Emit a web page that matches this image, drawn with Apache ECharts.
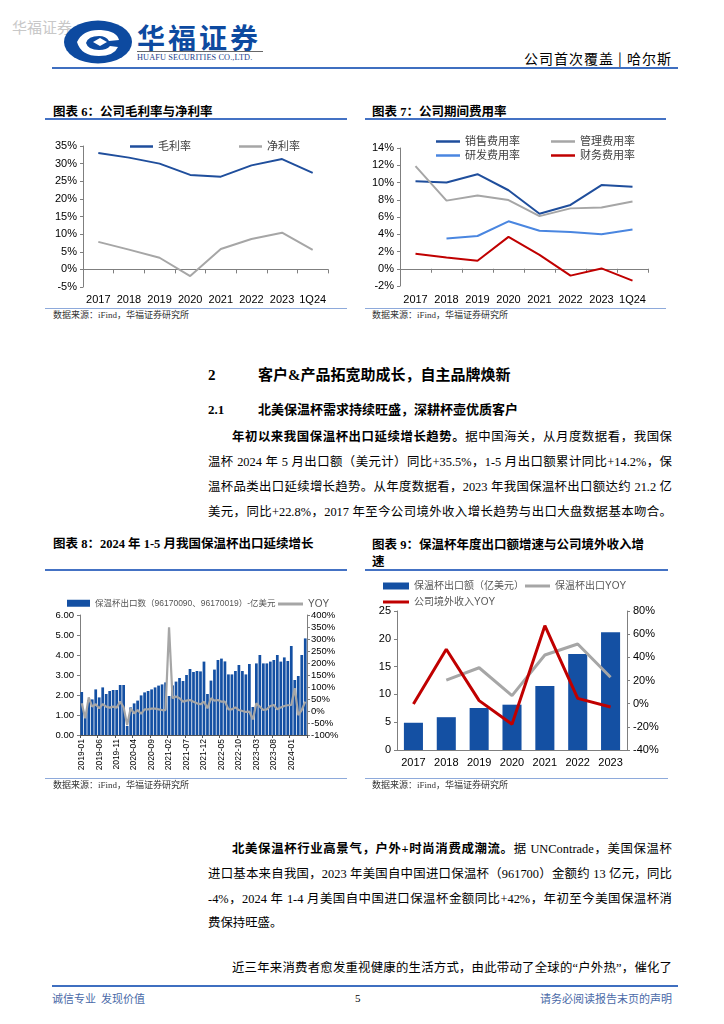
<!DOCTYPE html>
<html><head><meta charset="utf-8">
<script src="https://cdn.jsdelivr.net/npm/echarts/dist/echarts.min.js"></script>
<style>
body{margin:0;background:#fff;}
#page{position:relative;width:724px;height:1024px;background:#fff;overflow:hidden;font-family:"Liberation Serif","Noto Sans CJK SC",serif;color:#000;}
.a{position:absolute;white-space:nowrap;}
.t{position:absolute;white-space:nowrap;font-family:"Liberation Serif","Noto Sans CJK SC";font-weight:700;font-size:12.5px;line-height:16px;}
.ln{position:absolute;background:#4472c4;}
.src{position:absolute;white-space:nowrap;font-size:9px;line-height:12px;color:#333;font-family:"Liberation Serif","Noto Sans CJK SC";}
.p{position:absolute;font-size:12.4px;line-height:18px;text-align:justify;text-align-last:justify;font-family:"Liberation Serif","Noto Sans CJK SC";}
.p b{font-weight:700;}
.chart{position:absolute;}
</style></head>
<body><div id="page">
<!-- header -->
<div class="a" style="left:12px;top:18px;font-size:15px;line-height:18px;color:#c8c8c8;font-family:'Noto Sans CJK SC';">华福证券</div>
<svg class="a" style="left:63px;top:20px;" width="70" height="44" viewBox="0 0 70 44">
 <ellipse cx="35" cy="22" rx="34" ry="21.5" fill="#0d4aa0"/>
 <path d="M14 22 Q20 9 38 10 Q54 11 56 20 L46 21 Q43 16 36 16 Q25 16 23 23 Q25 30 36 30 Q44 30 47 26 L55 27 Q51 36 36 36 Q18 36 14 22 Z" fill="#fff"/>
 <path d="M30 22 L37 18 L44 22 L37 26 Z" fill="#fff"/>
</svg>
<div class="a" style="left:137px;top:20px;font-size:28px;line-height:34px;font-weight:700;color:#0d4aa0;letter-spacing:3px;font-family:'Noto Sans CJK SC';">华福证券</div>
<div class="a" style="left:137px;top:51px;width:126px;height:1px;background:#666;"></div>
<div class="a" style="left:137px;top:53px;font-size:8.3px;line-height:10px;color:#1d3f8a;letter-spacing:0.1px;">HUAFU SECURITIES CO.,LTD.</div>
<div class="a" style="right:52px;top:49px;font-size:14px;line-height:18px;letter-spacing:1px;font-family:'Noto Sans CJK SC';">公司首次覆盖&nbsp;|&nbsp;哈尔斯</div>
<div class="a" style="left:52px;top:67px;width:626px;height:2px;background:#3f6fc0;"></div>

<!-- chart titles top -->
<div class="t" style="left:53px;top:104px;">图表 6：公司毛利率与净利率</div>
<div class="ln" style="left:45px;top:118px;width:302px;height:1.5px;"></div>
<div class="t" style="left:372px;top:104px;">图表 7：公司期间费用率</div>
<div class="ln" style="left:365px;top:118px;width:301px;height:1.5px;"></div>
<div id="c6" class="chart" style="left:45px;top:125px;width:300px;height:180px;"></div>
<div id="c7" class="chart" style="left:365px;top:125px;width:300px;height:180px;"></div>
<div class="ln" style="left:45px;top:308px;width:302px;height:1px;background:#8eaadb;"></div>
<div class="ln" style="left:365px;top:308px;width:301px;height:1px;background:#8eaadb;"></div>
<div class="src" style="left:53px;top:309px;">数据来源：iFind，华福证券研究所</div>
<div class="src" style="left:372px;top:309px;">数据来源：iFind，华福证券研究所</div>

<!-- section text -->
<div class="a" style="left:208px;top:366px;font-size:15px;line-height:18px;font-weight:700;">2</div>
<div class="a" style="left:258px;top:366px;font-size:15px;line-height:18px;font-weight:700;">客户&amp;产品拓宽助成长，自主品牌焕新</div>
<div class="a" style="left:208px;top:402px;font-size:13px;line-height:16px;font-weight:700;">2.1</div>
<div class="a" style="left:258px;top:402px;font-size:13px;line-height:16px;font-weight:700;">北美保温杯需求持续旺盛，深耕杯壶优质客户</div>
<div class="p" style="left:232px;top:428px;width:440px;"><b>年初以来我国保温杯出口延续增长趋势。</b>据中国海关，从月度数据看，我国保</div>
<div class="p" style="left:208px;top:453px;width:464px;">温杯 2024 年 5 月出口额（美元计）同比+35.5%，1-5 月出口额累计同比+14.2%，保</div>
<div class="p" style="left:208px;top:478px;width:464px;">温杯品类出口延续增长趋势。从年度数据看，2023 年我国保温杯出口额达约 21.2 亿</div>
<div class="p" style="left:208px;top:503px;width:464px;">美元，同比+22.8%，2017 年至今公司境外收入增长趋势与出口大盘数据基本吻合。</div>

<!-- chart titles bottom -->
<div class="t" style="left:53px;top:536px;">图表 8：2024 年 1-5 月我国保温杯出口延续增长</div>
<div class="t" style="left:372px;top:537px;line-height:17px;">图表 9：保温杯年度出口额增速与公司境外收入增<br>速</div>
<div class="ln" style="left:45px;top:569px;width:302px;height:1.5px;"></div>
<div class="ln" style="left:365px;top:569px;width:303px;height:1.5px;"></div>
<div id="c8" class="chart" style="left:45px;top:575px;width:300px;height:205px;"></div>
<div id="c9" class="chart" style="left:365px;top:572px;width:300px;height:203px;"></div>
<div class="ln" style="left:45px;top:778px;width:302px;height:1px;background:#8eaadb;"></div>
<div class="ln" style="left:365px;top:778px;width:303px;height:1px;background:#8eaadb;"></div>
<div class="src" style="left:53px;top:779px;">数据来源：iFind，华福证券研究所</div>
<div class="src" style="left:372px;top:779px;">数据来源：iFind，华福证券研究所</div>

<!-- lower text -->
<div class="p" style="left:232px;top:840px;width:440px;"><b>北美保温杯行业高景气，户外+时尚消费成潮流。</b>据 UNContrade，美国保温杯</div>
<div class="p" style="left:208px;top:865px;width:464px;">进口基本来自我国，2023 年美国自中国进口保温杯（961700）金额约 13 亿元，同比</div>
<div class="p" style="left:208px;top:890px;width:464px;">-4%，2024 年 1-4 月美国自中国进口保温杯金额同比+42%，年初至今美国保温杯消</div>
<div class="p" style="left:208px;top:914px;width:464px;text-align:left;text-align-last:left;">费保持旺盛。</div>
<div class="p" style="left:232px;top:959px;width:440px;">近三年来消费者愈发重视健康的生活方式，由此带动了全球的“户外热”，催化了</div>

<!-- footer -->
<div class="a" style="left:52px;top:985px;width:626px;height:2px;background:#3f6fc0;"></div>
<div class="a" style="left:52px;top:991px;font-size:11px;line-height:14px;color:#4a6aa8;font-family:'Noto Sans CJK SC';">诚信专业&nbsp;&nbsp;发现价值</div>
<div class="a" style="left:355px;top:991px;font-size:11px;line-height:14px;">5</div>
<div class="a" style="right:52px;top:991px;font-size:11px;line-height:14px;color:#4a6aa8;font-family:'Noto Sans CJK SC';">请务必阅读报告末页的声明</div>
</div>

<script>
// ---------- data ----------
const years6 = ['2017','2018','2019','2020','2021','2022','2023','1Q24'];
const grossMargin = [33.0, 31.7, 30.0, 26.8, 26.3, 29.5, 31.3, 27.4];
const netMargin = [7.8, 5.6, 3.3, -1.9, 5.8, 8.6, 10.4, 5.5];

const years7 = ['2017','2018','2019','2020','2021','2022','2023','1Q24'];
const sellingRate = [10.15, 10.0, 10.96, 9.1, 6.37, 7.4, 9.7, 9.5];
const adminRate = [11.9, 7.9, 8.5, 7.96, 6.1, 7.0, 7.1, 7.8];
const rdRate = [null, 3.5, 3.8, 5.5, 4.4, 4.26, 4.0, 4.55];
const financeRate = [1.74, 1.3, 0.93, 3.7, 1.6, -0.8, 0.04, -1.37];

const months8 = ['2019-01','2019-02','2019-03','2019-04','2019-05','2019-06','2019-07','2019-08','2019-09','2019-10','2019-11','2019-12',
 '2020-01','2020-02','2020-03','2020-04','2020-05','2020-06','2020-07','2020-08','2020-09','2020-10','2020-11','2020-12',
 '2021-01','2021-02','2021-03','2021-04','2021-05','2021-06','2021-07','2021-08','2021-09','2021-10','2021-11','2021-12',
 '2022-01','2022-02','2022-03','2022-04','2022-05','2022-06','2022-07','2022-08','2022-09','2022-10','2022-11','2022-12',
 '2023-01','2023-02','2023-03','2023-04','2023-05','2023-06','2023-07','2023-08','2023-09','2023-10','2023-11','2023-12',
 '2024-01','2024-02','2024-03','2024-04','2024-05'];
const exportMonthly = [2.15,1.1,1.75,1.78,2.28,1.88,2.38,2.05,2.2,2.25,2.25,2.5,
 2.5,0.45,1.38,1.58,1.72,1.98,2.13,2.2,2.28,2.38,2.47,2.53,
 2.63,1.95,2.48,2.67,2.85,2.7,3.0,3.3,3.15,3.2,3.18,3.67,
 2.05,2.72,3.27,3.75,3.82,3.68,3.03,3.03,3.2,3.5,3.2,3.03,
 3.55,1.4,3.58,4.0,3.58,3.58,3.67,3.75,4.0,3.67,3.88,3.7,
 4.45,2.75,2.95,4.0,4.83];
const exportMonthlyYoy = [32,-30,57,18,28,11,29,18,14,18,14,39,
 15,-58,11,-10,4,-12,7,7,10,10,7,4,
 4,349,53,60,53,39,43,46,39,32,28,39,
 11,53,43,46,39,39,7,7,15,4,0,-4,
 -3,-35,32,18,4,7,21,25,7,15,21,24,
 25,95,-17,4,39];
const leftTicks8 = [0,1,2,3,4,5,6];
const rightTicks8 = [-100,400];

const years9 = ['2017','2018','2019','2020','2021','2022','2023'];
const exportAnnual = [4.9, 5.9, 7.55, 8.15, 11.5, 17.27, 21.2];
const exportAnnualYoy = [null, 20.4, 31.0, 6.9, 42.0, 51.5, 22.8];
const overseasYoy = [-0.3, 47.0, 2.6, -17.8, 67.3, 4.6, -2.9];

// ---------- styles ----------
const FONT = 'Liberation Sans, Noto Sans CJK SC, sans-serif';
const BLUE = '#1f4e9c', GRAY = '#a6a6a6', LBLUE = '#4a86e0', RED = '#c00000', BAR = '#1450a3';
const axisCol = '#7f7f7f';

function valAxis(min, max, interval, fmt, extra) {
  return Object.assign({
    type: 'value', min: min, max: max, interval: interval,
    axisLine: {show: true, lineStyle: {color: axisCol}},
    axisTick: {show: true, length: 3, lineStyle: {color: axisCol}},
    splitLine: {show: false},
    axisLabel: {formatter: fmt, fontSize: 11, color: '#000', margin: 6, fontFamily: FONT}
  }, extra || {});
}
function catAxis(data, margin) {
  return {type: 'category', data: data,
    axisLine: {onZero: true, lineStyle: {color: axisCol}},
    axisTick: {show: true, length: 4, lineStyle: {color: axisCol}},
    axisLabel: {interval: 0, hideOverlap: false, fontSize: 11, color: '#000', margin: margin, fontFamily: FONT}};
}

// chart 6
const c6 = echarts.init(document.getElementById('c6'));
c6.setOption({
  animation: false,
  textStyle: {fontFamily: FONT},
  legend: {left: 80, top: 11, icon: 'rect', itemWidth: 23, itemHeight: 2.5, itemGap: 48,
    textStyle: {fontSize: 11, color: '#404040', fontFamily: FONT}, data: ['毛利率', '净利率']},
  grid: {left: 38, right: 17, top: 21, bottom: 10},
  xAxis: catAxis(years6, 7),
  yAxis: valAxis(-5, 35, 5, '{value}%'),
  series: [
    {name: '毛利率', type: 'line', data: grossMargin, symbol: 'none', lineStyle: {width: 2, color: BLUE}, itemStyle: {color: BLUE}},
    {name: '净利率', type: 'line', data: netMargin, symbol: 'none', lineStyle: {width: 2, color: GRAY}, itemStyle: {color: GRAY}}
  ]
});

// chart 7
const c7 = echarts.init(document.getElementById('c7'));
const leg7 = {icon: 'rect', itemWidth: 24, itemHeight: 2.5, itemGap: 31, left: 66,
  textStyle: {fontSize: 11, color: '#404040', fontFamily: FONT}};
c7.setOption({
  animation: false,
  textStyle: {fontFamily: FONT},
  legend: [Object.assign({top: 6, data: ['销售费用率', '管理费用率']}, leg7),
           Object.assign({top: 20, data: ['研发费用率', '财务费用率']}, leg7)],
  grid: {left: 35, right: 17, top: 23, bottom: 13},
  xAxis: catAxis(years7, 8),
  yAxis: valAxis(-2, 14, 2, '{value}%'),
  series: [
    {name: '销售费用率', type: 'line', data: sellingRate, symbol: 'none', lineStyle: {width: 2, color: BLUE}, itemStyle: {color: BLUE}},
    {name: '管理费用率', type: 'line', data: adminRate, symbol: 'none', lineStyle: {width: 2, color: GRAY}, itemStyle: {color: GRAY}},
    {name: '研发费用率', type: 'line', data: rdRate, symbol: 'none', lineStyle: {width: 2, color: LBLUE}, itemStyle: {color: LBLUE}},
    {name: '财务费用率', type: 'line', data: financeRate, symbol: 'none', lineStyle: {width: 2, color: RED}, itemStyle: {color: RED}}
  ]
});

// chart 8
const c8 = echarts.init(document.getElementById('c8'));
const n8bar = '保温杯出口数（96170090、96170019）-亿美元';
c8.setOption({
  animation: false,
  textStyle: {fontFamily: FONT},
  legend: [
    {left: 17, top: 19, icon: 'rect', itemWidth: 23, itemHeight: 7, itemGap: 3, data: [n8bar],
     textStyle: {fontSize: 8.5, color: '#555', fontFamily: FONT}},
    {left: 228, top: 19, icon: 'rect', itemWidth: 25, itemHeight: 3, data: ['YOY'],
     textStyle: {fontSize: 10, color: '#555', fontFamily: FONT}}
  ],
  grid: {left: 35, right: 38, top: 40, bottom: 45},
  xAxis: {type: 'category', data: months8,
    axisLine: {lineStyle: {color: '#555'}},
    axisTick: {show: true, interval: 4, length: 3, lineStyle: {color: '#555'}},
    axisLabel: {interval: 4, rotate: 90, fontSize: 8.5, color: '#000', margin: 4, fontFamily: FONT}},
  yAxis: [
    valAxis(leftTicks8[0], leftTicks8[leftTicks8.length - 1], 1, v => v.toFixed(2),
      {axisLabel: {formatter: v => v.toFixed(2), fontSize: 9.5, color: '#000', margin: 6, fontFamily: FONT}}),
    valAxis(rightTicks8[0], rightTicks8[1], 50, '{value}%',
      {position: 'right', axisLabel: {formatter: '{value}%', fontSize: 9.5, color: '#000', margin: 4, fontFamily: FONT}})
  ],
  series: [
    {name: n8bar, type: 'bar', data: exportMonthly, barCategoryGap: '22%', itemStyle: {color: BAR}},
    {name: 'YOY', type: 'line', yAxisIndex: 1, data: exportMonthlyYoy, symbol: 'none',
     lineStyle: {width: 2.2, color: GRAY}, itemStyle: {color: GRAY}}
  ]
});

// chart 9
const c9 = echarts.init(document.getElementById('c9'));
const legTxt9 = {fontSize: 10, color: '#595959', fontFamily: FONT};
c9.setOption({
  animation: false,
  textStyle: {fontFamily: FONT},
  legend: [
    {left: 13, top: 4, icon: 'rect', itemWidth: 26, itemHeight: 7, data: ['保温杯出口额（亿美元）'], textStyle: legTxt9},
    {left: 155, top: 4, icon: 'rect', itemWidth: 25, itemHeight: 3, data: ['保温杯出口YOY'], textStyle: legTxt9},
    {left: 13, top: 20, icon: 'rect', itemWidth: 26, itemHeight: 3, data: ['公司境外收入YOY'], textStyle: legTxt9}
  ],
  grid: {left: 32, right: 38, top: 39, bottom: 25},
  xAxis: {type: 'category', data: years9,
    axisLine: {lineStyle: {color: axisCol}},
    axisTick: {show: false},
    axisLabel: {interval: 0, fontSize: 11, color: '#000', margin: 7, fontFamily: FONT}},
  yAxis: [
    valAxis(0, 25, 5, '{value}'),
    valAxis(-40, 80, 20, '{value}%', {position: 'right'})
  ],
  series: [
    {name: '保温杯出口额（亿美元）', type: 'bar', data: exportAnnual, barWidth: '58%', itemStyle: {color: BAR}},
    {name: '保温杯出口YOY', type: 'line', yAxisIndex: 1, data: exportAnnualYoy, symbol: 'none',
     lineStyle: {width: 3, color: GRAY}, itemStyle: {color: GRAY}},
    {name: '公司境外收入YOY', type: 'line', yAxisIndex: 1, data: overseasYoy, symbol: 'none',
     lineStyle: {width: 3, color: RED}, itemStyle: {color: RED}}
  ]
});
</script>
</body></html>
